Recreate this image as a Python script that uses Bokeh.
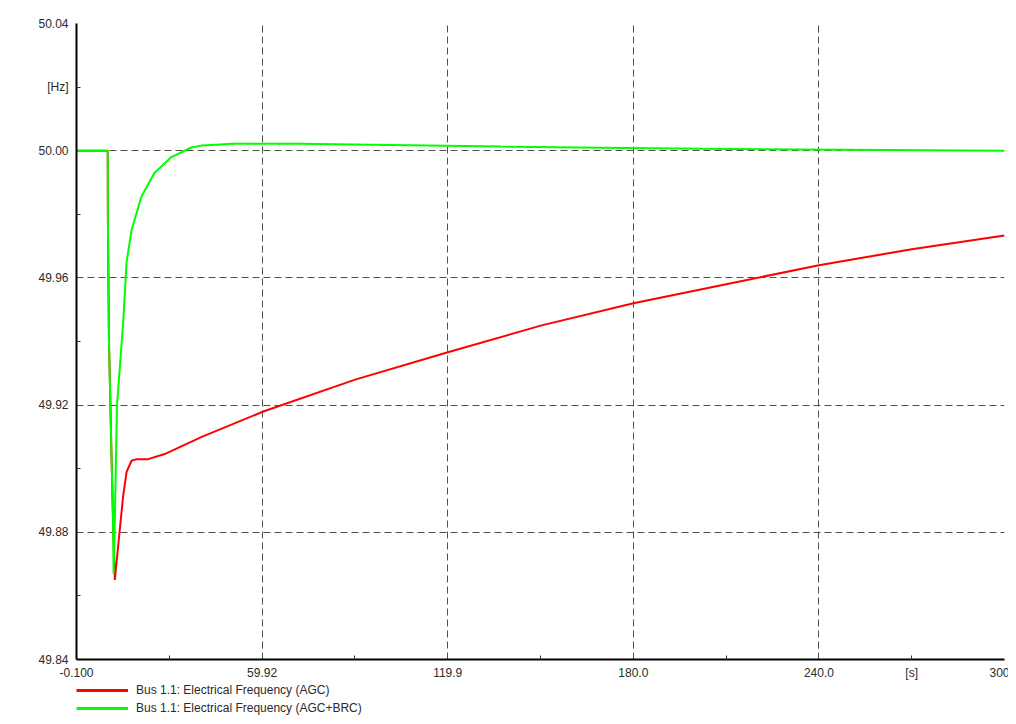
from bokeh.plotting import figure
from bokeh.models import Range1d, FixedTicker, Legend, LegendItem
from bokeh.layouts import column
from bokeh.embed import file_html
from bokeh.resources import INLINE

# Time axis [s]
t_agc = [-0.1, 10.0, 10.05, 10.4, 11.2, 11.8, 12.3, 13.4, 15.0, 16.1, 17.7, 19.3,
         23.1, 28.4, 40.4, 60.3, 90.0, 120.0, 150.0, 180.0, 210.0, 240.0, 270.0, 300.0]
f_agc = [50.0, 50.0, 49.979, 49.94, 49.905, 49.88, 49.865, 49.876, 49.8915, 49.899, 49.9025, 49.903,
         49.903, 49.9046, 49.910, 49.918, 49.928, 49.9366, 49.945, 49.952, 49.958, 49.964, 49.969, 49.9733]

t_brc = [-0.1, 10.0, 10.05, 10.4, 11.2, 11.7, 11.9, 12.3, 13.0, 15.0, 16.1, 17.7, 20.9,
         25.1, 30.6, 37.0, 40.3, 45.1, 50.0, 72.0, 137.0, 202.0, 300.0]
f_brc = [50.0, 50.0, 49.979, 49.94, 49.905, 49.885, 49.867, 49.884, 49.92, 49.946, 49.965, 49.975, 49.9856,
         49.993, 49.998, 50.001, 50.0016, 50.0019, 50.0022, 50.0022, 50.0013, 50.0006, 50.0]

x_ticks = [-0.1, 59.92, 119.94, 179.96, 239.98, 300.0]
x_labels = ["-0.100", "59.92", "119.9", "180.0", "240.0", "300.0"]
x_minor = [29.91, 89.93, 149.95, 209.97, 269.99]
y_ticks = [49.84, 49.88, 49.92, 49.96, 50.00, 50.04]
y_labels = ["49.84", "49.88", "49.92", "49.96", "50.00", "50.04"]
y_minor = [49.86, 49.90, 49.94, 49.98, 50.02]

label_agc = "Bus 1.1: Electrical Frequency (AGC)"
label_brc = "Bus 1.1: Electrical Frequency (AGC+BRC)"

FONT = "Liberation Sans"
W = 1008

p = figure(width=W, height=682, output_backend="svg", toolbar_location=None,
           x_range=Range1d(-0.1, 300.0), y_range=Range1d(49.84, 50.04),
           min_border_left=76, min_border_right=4, min_border_top=23, min_border_bottom=22)
p.outline_line_color = None
p.background_fill_color = "white"
p.border_fill_color = "white"

p.line(t_agc, f_agc, line_color="#FF0000", line_width=2)
p.line(t_brc, f_brc, line_color="#00FF00", line_width=2)

# x axis
xt = x_ticks + [x_minor[-1]]
p.xaxis.ticker = FixedTicker(ticks=xt, minor_ticks=x_minor)
ov = {x_ticks[i]: x_labels[i] for i in range(len(x_ticks))}
ov[x_minor[-1]] = "[s]"
p.xaxis.major_label_overrides = ov
# y axis
yt = y_ticks + [y_minor[-1]]
p.yaxis.ticker = FixedTicker(ticks=yt, minor_ticks=y_minor)
oy = {y_ticks[i]: y_labels[i] for i in range(len(y_ticks))}
oy[y_minor[-1]] = "[Hz]"
p.yaxis.major_label_overrides = oy

for ax in (p.xaxis, p.yaxis):
    ax.axis_line_color = "black"
    ax.axis_line_width = 2
    ax.major_tick_in = 0
    ax.major_tick_out = 0
    ax.minor_tick_in = 4
    ax.minor_tick_out = 0
    ax.minor_tick_line_color = "#333333"
    ax.major_label_text_font = FONT
    ax.major_label_text_font_size = "12px"
    ax.major_label_text_color = "#2a2a2a"
p.xaxis.major_label_standoff = 6
p.yaxis.major_label_standoff = 8

p.xgrid.ticker = FixedTicker(ticks=x_ticks)
p.ygrid.ticker = FixedTicker(ticks=y_ticks)
for g in (p.xgrid, p.ygrid):
    g.grid_line_color = "#505050"
    g.grid_line_width = 1
    g.grid_line_dash = "7 4"

# Legend strip below the chart (series drawn out of view, only their legend shows)
q = figure(width=W, height=34, output_backend="svg", toolbar_location=None,
           x_range=Range1d(1000, 1001), y_range=Range1d(1000, 1001),
           x_axis_type=None, y_axis_type=None,
           min_border_left=0, min_border_right=0, min_border_top=0, min_border_bottom=0)
q.outline_line_color = None
q.xgrid.visible = False
q.ygrid.visible = False
q1 = q.line(t_agc, f_agc, line_color="#FF0000", line_width=3)
q2 = q.line(t_brc, f_brc, line_color="#00FF00", line_width=3)

legend = Legend(items=[LegendItem(label=label_agc, renderers=[q1]),
                       LegendItem(label=label_brc, renderers=[q2])],
                location=(0, 0), orientation="vertical")
legend.label_text_font = FONT
legend.label_text_font_size = "12px"
legend.label_text_color = "#2a2a2a"
legend.label_height = 16
legend.glyph_height = 16
legend.glyph_width = 52
legend.label_standoff = 8
legend.spacing = 2
legend.padding = 0
legend.margin = 0
legend.border_line_color = None
legend.background_fill_alpha = 0
q.add_layout(legend, "center")

open("out.html", "w").write(file_html(column(p, q, spacing=0), INLINE))
